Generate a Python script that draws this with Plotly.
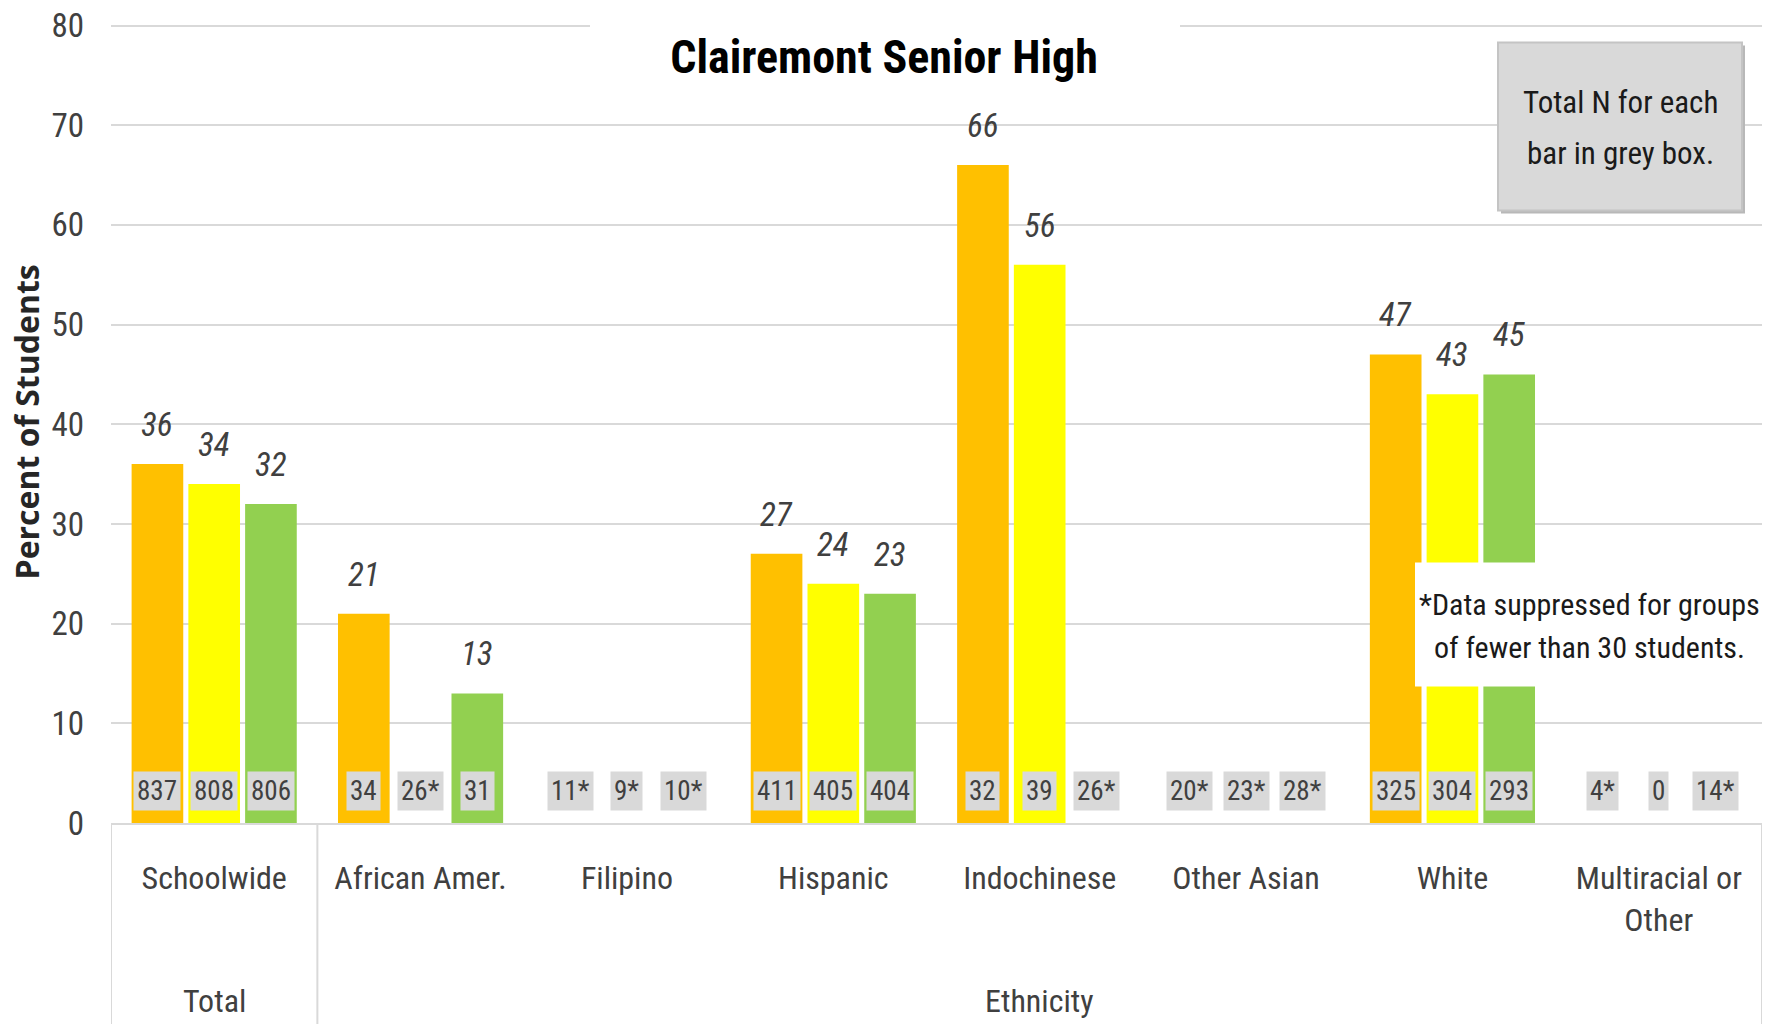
import plotly.graph_objects as go

# ---------------- data ----------------
categories = ["Schoolwide", "African Amer.", "Filipino", "Hispanic",
              "Indochinese", "Other Asian", "White", "Multiracial or<br>Other"]
group_labels = ["Total", "Ethnicity"]
group_first = [0, 1]
group_last = [0, 7]

series_names = ["Year 1", "Year 2", "Year 3"]
pct_year1 = [36, 21, None, 27, 66, None, 47, None]
pct_year2 = [34, None, None, 24, 56, None, 43, None]
pct_year3 = [32, 13, None, 23, None, None, 45, None]

n_year1 = ["837", "34", "11*", "411", "32", "20*", "325", "4*"]
n_year2 = ["808", "26*", "9*", "405", "39", "23*", "304", "0"]
n_year3 = ["806", "31", "10*", "404", "26*", "28*", "293", "14*"]

y_ticks = [0, 10, 20, 30, 40, 50, 60, 70, 80]

title_text = "Clairemont Senior High"
y_title = "Percent of Students"
note_grey_lines = ["Total N for each", "bar in grey box."]
note_white_lines = ["*Data suppressed for groups", "of fewer than 30 students."]

# ---------------- style ----------------
colors = ["#FFC000", "#FFFF00", "#92D050"]
NARROW = "'Liberation Sans Narrow', 'Arial Narrow', 'Roboto Condensed', 'Liberation Sans', sans-serif"
GRID = "#D9D9D9"
TXT = "#404040"
BARGAP = 0.175
BARGROUPGAP = 0.09
YMAX = 80.15

W, H = 1779, 1024
# plot area in page pixels (page body margin removed below)
P_LEFT, P_RIGHT, P_TOP, P_BOTTOM = 111, 1762, 23.5, 822.6
L = P_LEFT
R = W - P_RIGHT
T = P_TOP
B = H - P_BOTTOM
plot_h = H - T - B
plot_w = W - L - R


def px(xp):
    return (xp - P_LEFT) / plot_w


def py(yp):
    return (P_BOTTOM - yp) / plot_h


pct_series = [pct_year1, pct_year2, pct_year3]
n_series = [n_year1, n_year2, n_year3]
xs = list(range(len(categories)))

fig = go.Figure()
for k, (name, vals) in enumerate(zip(series_names, pct_series)):
    fig.add_trace(go.Bar(
        x=xs, y=vals, name=name, marker=dict(color=colors[k], line=dict(width=0)),
        hoverinfo="y",
    ))

slot = (1 - BARGAP) / len(pct_series)
annotations = []
for k, (vals, ns) in enumerate(zip(pct_series, n_series)):
    off = (k - (len(pct_series) - 1) / 2) * slot
    for i, (v, n) in enumerate(zip(vals, ns)):
        xi = xs[i] + off
        if v is not None:
            annotations.append(dict(
                x=xi, y=v, xref="x", yref="y", text=f"<i>{v}</i>", showarrow=False,
                yanchor="bottom", yshift=18,
                font=dict(family=NARROW, size=33, color=TXT)))
        annotations.append(dict(
            x=xi, y=0, xref="x", yref="y", text=n, showarrow=False,
            yanchor="middle", yshift=32, bgcolor="#D9D9D9", borderpad=3,
            font=dict(family=NARROW, size=27, color=TXT)))

# group labels
for g, a, b in zip(group_labels, group_first, group_last):
    annotations.append(dict(
        x=(xs[a] + xs[b]) / 2, y=py(1001), xref="x", yref="paper",
        text=g, showarrow=False, yanchor="middle",
        font=dict(family=NARROW, size=32, color=TXT)))

# y axis title
annotations.append(dict(
    x=px(26), y=py(422), xref="paper", yref="paper", text=f"<b>{y_title}</b>",
    textangle=-90, showarrow=False, xanchor="center", yanchor="middle",
    font=dict(family="'Open Sans', sans-serif", size=32, color="#262626")))

# grey note box text
for line, yp in zip(note_grey_lines, [102, 153]):
    annotations.append(dict(
        x=px(1620), y=py(yp), xref="paper", yref="paper", text=line, showarrow=False,
        xanchor="center", yanchor="middle",
        font=dict(family=NARROW, size=31, color="#1a1a1a")))

# white note box text
for line, yp in zip(note_white_lines, [604, 647]):
    annotations.append(dict(
        x=px(1589), y=py(yp), xref="paper", yref="paper", text=line, showarrow=False,
        xanchor="center", yanchor="middle",
        font=dict(family=NARROW, size=30, color="#1a1a1a")))

shapes = []
# white backdrop behind title
shapes.append(dict(type="rect", xref="paper", yref="paper",
                   x0=px(590), x1=px(1180), y0=py(88), y1=1.05,
                   fillcolor="white", line=dict(width=0), layer="above"))
# grey note box (with a soft shadow)
shapes.append(dict(type="rect", xref="paper", yref="paper",
                   x0=px(1501), x1=px(1745), y0=py(213), y1=py(45),
                   fillcolor="#B8B8B8", line=dict(width=0), layer="above"))
shapes.append(dict(type="rect", xref="paper", yref="paper",
                   x0=px(1498), x1=px(1742), y0=py(210), y1=py(42),
                   fillcolor="#D9D9D9", line=dict(color="#C4C4C4", width=2), layer="above"))
# white note box
shapes.append(dict(type="rect", xref="paper", yref="paper",
                   x0=px(1415), x1=px(1762), y0=py(686), y1=py(562),
                   fillcolor="white", line=dict(width=0), layer="above"))
# hierarchical axis dividers
for xv in [xs[0] - 0.5, xs[0] + 0.5, xs[-1] + 0.5]:
    shapes.append(dict(type="line", xref="x", yref="paper", x0=xv, x1=xv, y0=0, y1=py(1024),
                       line=dict(color=GRID, width=2), layer="above"))

fig.update_layout(
    width=W, height=H,
    margin=dict(l=L, r=R, t=T, b=B, autoexpand=False),
    paper_bgcolor="white", plot_bgcolor="white",
    barmode="group", bargap=BARGAP, bargroupgap=BARGROUPGAP,
    showlegend=False,
    title=dict(text=f"<b>{title_text}</b>", x=px(884), xref="paper",
               xanchor="center", y=1 - 57 / H, yref="container",
               yanchor="middle",
               font=dict(family=NARROW, size=46, color="black")),
    xaxis=dict(range=[-0.5, len(categories) - 0.5], tickmode="array", tickvals=xs,
               ticktext=categories, showgrid=False, zeroline=False, showline=True,
               linecolor=GRID, linewidth=2, ticks="", ticklabelstandoff=26,
               automargin=False,
               tickfont=dict(family=NARROW, size=32, color=TXT)),
    yaxis=dict(range=[0, YMAX], tickmode="array", tickvals=y_ticks, showgrid=True,
               gridcolor=GRID, gridwidth=2, zeroline=False, showline=False, ticks="",
               ticklabelstandoff=26, automargin=False, ticklabeloverflow="allow",
               tickfont=dict(family=NARROW, size=33, color=TXT)),
    annotations=annotations, shapes=shapes,
)

fig.write_html(
    "out.html",
    config={"displayModeBar": False},
    post_script="document.body.style.margin='0';document.body.style.overflow='hidden';",
)
